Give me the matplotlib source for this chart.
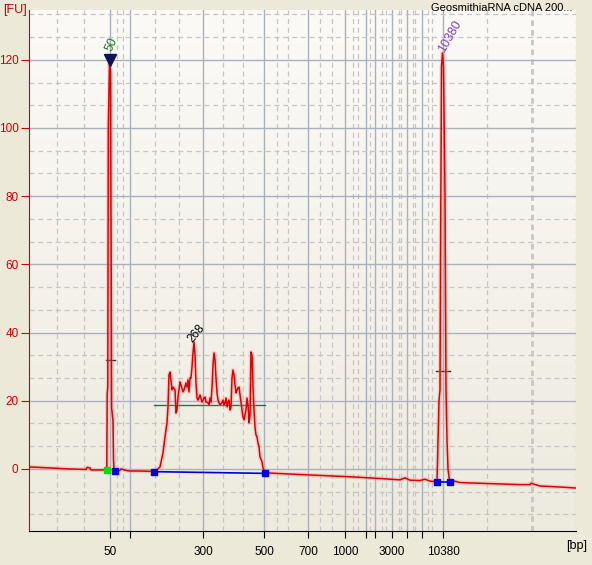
import matplotlib
matplotlib.use('Agg')
from matplotlib import pyplot as plt
from matplotlib.colors import LinearSegmentedColormap
import numpy as np

plt.rcParams['font.family'] = ['Liberation Sans', 'DejaVu Sans']

# migration position (arbitrary units along the run) and fluorescence [FU]
trace_x = [29, 50, 70, 86, 87, 90, 91, 100, 106.8, 107.2, 107.8, 108.3, 109.5, 110.5, 111.2, 111.6, 113, 113.5, 114,
           115, 120, 121, 127, 130, 140, 150, 155,
           160, 163, 165, 167, 168, 169, 170, 172, 173, 175, 176, 177, 178, 180, 181, 183, 184, 186, 187, 188, 189,
           190, 191, 192, 193, 194, 195, 196, 197, 198, 200, 202, 204, 205, 206, 208, 209, 210, 211, 212, 213, 214,
           215, 216, 217, 218, 219, 220, 222, 223, 224, 225, 226, 227, 228, 229, 230, 231, 232, 233, 234, 235, 236,
           237, 238, 239, 240, 241, 242, 243, 244, 245, 246, 247, 248, 249, 250, 251, 252, 253, 254, 255, 256, 257,
           258, 259, 260, 262, 263, 264, 265,
           270, 290, 320, 350, 380, 400, 405, 410, 420, 425, 430, 436, 437,
           438, 439, 440, 440.5, 441.5, 442.5, 443.5, 445, 446, 447, 448, 449, 450,
           455, 460, 480, 500, 520, 530, 531, 540, 560, 576]
trace_y = [0.6, 0.3, 0.0, -0.15, 0.45, 0.3, -0.3, -0.3, -0.3, 22, 24, 100, 119, 116, 60, 18, 14, 3, -0.5,
           -0.6, -0.4, 0.0, -0.5, -0.6, -0.6, -0.7, -0.8,
           0.6, 4.7, 9.4, 13.5, 18.2, 27.6, 28.4, 23.2, 24, 23.2, 16.4, 17.3, 21.1, 25.5, 24.6, 22.6, 23.2, 25.2, 24,
           26.1, 22.6, 26.7, 26.7, 29.9, 34, 37.2, 33.4, 25.2, 20.8, 20.2, 21.7, 19.6, 20.8, 21.1, 19.6, 19.4, 18.8,
           20.8, 19.6, 23.8, 30.5, 34, 32, 26.7, 22.3, 20.2, 19.4, 18.8, 19.4, 20.2, 18.8, 19.4, 20.8, 18.2, 19.6,
           20.2, 17.3, 18.2, 26.7, 29, 27.6, 24.6, 22.3, 23.2, 23.8, 24, 21.7, 19.6, 17.3, 15.2, 14.4, 15.8, 17.3,
           20.8, 18.8, 13.5, 15.8, 34.3, 33.4, 24, 17.3, 12.3, 10, 9.4, 7.6, 6.5, 3.5, 2.1, 0.3, -0.3, -0.9,
           -1.2, -1.5, -1.9, -2.3, -2.8, -3.2, -2.6, -3.3, -3.4, -3.0, -3.6, -3.7, -3.8,
           7.6, 20, 23.2, 60, 118, 122, 118, 80, 23.2, 8.5, 0, -2.3, -3.8,
           -3.6, -4.0, -4.2, -4.4, -4.6, -4.6, -4.2, -5.0, -5.3, -5.6]

tick_pos = [110, 130, 203, 264, 308, 345, 366, 375, 392, 407, 422, 443]
tick_labels = ['50', '', '300', '500', '700', '1000', '', '', '3000', '', '', '10380']
minor_pos = [57, 84, 117, 123, 155, 179, 223, 243, 277, 288, 320, 332, 353, 358, 370, 382, 386, 399, 401,
             413, 415, 428, 432, 487, 576]

# peak annotations
lower_marker = (110, 120, '50')
upper_marker = (443, 122, '10380')
smear_peak = (195, 37.5, '268')

fig = plt.figure(figsize=(5.92, 5.65), dpi=100)
fig.patch.set_facecolor('#ECE9D8')
ax = fig.add_axes([29 / 592, 34 / 565, 547 / 592, 521 / 565])

ax.set_xlim(29, 576)
ax.set_ylim(-18.2, 134.6)

# panel background fades from near white at the top to beige
bg = LinearSegmentedColormap.from_list('bg', ['#EDEADE', '#FBFAF7'])
ax.imshow(np.linspace(0, 1, 256).reshape(-1, 1), cmap=bg, aspect='auto', origin='lower',
          extent=(29, 576, -18.2, 134.6), zorder=0)

ax.set_xticks(tick_pos)
ax.set_xticklabels(tick_labels)
ax.set_xticks(minor_pos, minor=True)
ax.set_yticks([0, 20, 40, 60, 80, 100, 120])
ax.set_yticks([k * 20 / 3 for k in range(-2, 21) if k % 3 != 0], minor=True)

ax.grid(which='major', color='#A9B1BE', linewidth=1, linestyle='-')
ax.grid(which='minor', color='#C6C6C6', linewidth=0.9, linestyle=(0, (4, 3)))
ax.axvline(532, color='#C6C6C6', linewidth=2, linestyle=(0, (2, 1.5)), zorder=0.5)
ax.set_axisbelow(True)

for s in ['top', 'right']:
    ax.spines[s].set_visible(False)
ax.spines['left'].set_color('#D00000')
ax.spines['bottom'].set_color('black')

ax.tick_params(axis='x', which='major', length=5, colors='black', labelsize=8.5, pad=6)
ax.tick_params(axis='x', which='minor', length=0)
ax.tick_params(axis='y', which='major', length=6, pad=1.5, color='#D00000', labelcolor='#D00000', labelsize=8.5)
ax.tick_params(axis='y', which='minor', length=0)

# fragment baselines and level lines
ax.plot([154, 265], [-0.8, -1.3], color='#0000D0', linewidth=1.2)
ax.plot([437, 450], [-3.8, -3.8], color='#0000D0', linewidth=1.2)
ax.plot([154, 265], [18.7, 18.7], color='#2E6E4A', linewidth=1)
ax.plot([106, 115], [32, 32], color='#303030', linewidth=1)
ax.plot([436, 450], [28.7, 28.7], color='#303030', linewidth=1)

ax.plot(trace_x, trace_y, color='#FF9090', linewidth=3, alpha=0.35)
ax.plot(trace_x, trace_y, color='#E00000', linewidth=1.1)

ax.plot([107], [-0.3], marker='s', color='#00E000', markersize=4.5)
ax.plot([115, 154, 265, 437, 450], [-0.6, -0.8, -1.3, -3.8, -3.8], 's', color='#0000E0', markersize=4.5)
ax.plot([lower_marker[0]], [lower_marker[1]], marker='v', color='#101060', markersize=8)

ax.text(lower_marker[0] + 1.5, lower_marker[1] + 2, lower_marker[2], color='#1A7A1A', fontsize=9,
        rotation=65, ha='center', va='bottom')
ax.text(upper_marker[0] + 4, upper_marker[1] - 0.5, upper_marker[2], color='#8040C0', fontsize=9,
        rotation=60, ha='left', va='bottom', rotation_mode='anchor')
ax.text(smear_peak[0], smear_peak[1] - 1, smear_peak[2], color='black', fontsize=8.5,
        rotation=50, ha='left', va='bottom', rotation_mode='anchor')

fig.text(3 / 592, 1 - 10 / 565, '[FU]', color='#D00000', fontsize=9, ha='left', va='center')
fig.text(587 / 592, 1 - 546 / 565, '[bp]', color='black', fontsize=9, ha='right', va='center')
fig.text(572 / 592, 1 - 8 / 565, 'GeosmithiaRNA cDNA 200...', color='black', fontsize=8, ha='right', va='center')

fig.savefig('out.png', dpi=100, facecolor=fig.get_facecolor())
